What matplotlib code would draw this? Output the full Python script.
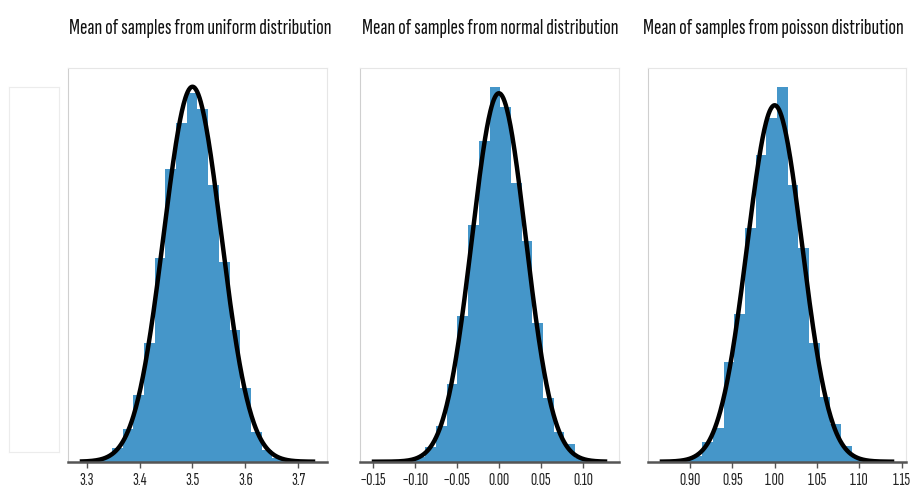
import numpy as np
import matplotlib
matplotlib.use('Agg')
import matplotlib.pyplot as plt
from matplotlib import font_manager as fm

# ---------------- data ----------------
titles = ["Mean of samples from uniform distribution",
          "Mean of samples from normal distribution",
          "Mean of samples from poisson distribution"]

# range of the sample means (histogram spans min..max with 22 bins)
data_min = [3.287, -0.151, 0.8642]
data_max = [3.732, 0.1287, 1.1413]
n_bins = 22

uniform_counts = [0.5, 0.5, 5, 14, 33, 67, 119, 204, 293, 339, 369,
                  353, 277, 200, 132, 74, 30, 12, 4, 1.5, 0.5, 0.3]
normal_counts = [0.2, 0.3, 0.7, 2, 5, 15, 36, 77, 145, 235, 319,
                 373, 353, 277, 220, 138, 63, 30, 18, 4, 1, 0.3]
poisson_counts = [0.5, 1, 2, 6, 20, 34, 99, 147, 232, 305, 342,
                  373, 275, 213, 118, 64, 38, 16, 5, 2, 0.5, 0.3]
all_counts = [uniform_counts, normal_counts, poisson_counts]

fit_mean = [3.5, 0.0, 1.0]
fit_std = [0.0544, 0.0320, 0.0325]

xticks = [[3.3, 3.4, 3.5, 3.6, 3.7],
          [-0.15, -0.10, -0.05, 0.00, 0.05, 0.10],
          [0.90, 0.95, 1.00, 1.05, 1.10, 1.15]]
xticklabels = [["3.3", "3.4", "3.5", "3.6", "3.7"],
               ["\u22120.15", "\u22120.10", "\u22120.05", "0.00", "0.05", "0.10"],
               ["0.90", "0.95", "1.00", "1.05", "1.10", "1.15"]]

bar_color = "#4596C9"

# ---------------- figure ----------------
fig = plt.figure(figsize=(9.14, 4.91), dpi=100)
renderer = fig.canvas.get_renderer()

# choose the narrowest installed condensed sans family
candidates = ["Roboto Condensed", "Archivo Narrow", "Barlow Condensed",
              "Fira Sans Extra Condensed", "Fira Sans Condensed", "PT Sans Narrow",
              "IBM Plex Sans Condensed", "Sofia Sans Extra Condensed",
              "Sofia Sans Condensed", "Liberation Sans Narrow",
              "Encode Sans Condensed", "Asap Condensed", "DejaVu Sans Condensed"]
installed = {f.name for f in fm.fontManager.ttflist}

def text_width(text, fam, size):
    t = fig.text(0, 0, text, family=[fam, "DejaVu Sans"], fontsize=size)
    w = t.get_window_extent(renderer).width
    t.remove()
    return w

best_fam, best_w = "DejaVu Sans", None
for fam in candidates:
    if fam in installed:
        w = text_width(titles[0], fam, 20)
        if best_w is None or w < best_w:
            best_fam, best_w = fam, w
families = [best_fam, "DejaVu Sans Condensed", "DejaVu Sans"]
families = [f for f in families if f in installed] or ["DejaVu Sans"]
plt.rcParams['font.family'] = families

title_size = min(18.0, 20 * 262 / text_width(titles[0], families[0], 20))
tick_size = min(13.0, 20 * 27 / text_width("\u22120.15", families[0], 20))

# faint empty frame on the far left
ghost = fig.add_axes([0.0098, 0.0794, 0.0548, 0.7434])
ghost.set_xticks([]); ghost.set_yticks([])
for s in ghost.spines.values():
    s.set_color("#ececec"); s.set_linewidth(0.8)

lefts = [68 / 914, 360 / 914, 648 / 914]
rights = [327 / 914, 619 / 914, 906 / 914]
title_x = [200 / 914, 490 / 914, 773 / 914]
bottom = 1 - 461.7 / 491
top = 1 - 68 / 491

for i in range(3):
    ax = fig.add_axes([lefts[i], bottom, rights[i] - lefts[i], top - bottom])
    edges = np.linspace(data_min[i], data_max[i], n_bins + 1)
    centers = 0.5 * (edges[:-1] + edges[1:])
    ax.hist(centers, bins=edges, weights=all_counts[i], density=True,
            color=bar_color, linewidth=0)
    xs = np.linspace(data_min[i], data_max[i], 400)
    pdf = np.exp(-0.5 * ((xs - fit_mean[i]) / fit_std[i]) ** 2) / (fit_std[i] * np.sqrt(2 * np.pi))
    ax.plot(xs, pdf, color="black", linewidth=3.2, solid_capstyle='butt')
    ax.set_xticks(xticks[i])
    ax.set_xticklabels(xticklabels[i], fontsize=tick_size)
    ax.set_yticks([])
    ax.tick_params(axis='x', direction='out', length=4, width=1.0,
                   color="#555555", labelcolor="#222222", pad=4)
    for name in ["top", "right"]:
        ax.spines[name].set_color("#e6e6e6"); ax.spines[name].set_linewidth(0.8)
    ax.spines["left"].set_color("#cfcfcf"); ax.spines["left"].set_linewidth(0.8)
    ax.spines["bottom"].set_color("#555555"); ax.spines["bottom"].set_linewidth(1.8)
    fig.text(title_x[i], 1 - 34 / 491, titles[i], fontsize=title_size,
             ha="center", va="baseline", color="#111111")

fig.savefig("out.png", dpi=100)
